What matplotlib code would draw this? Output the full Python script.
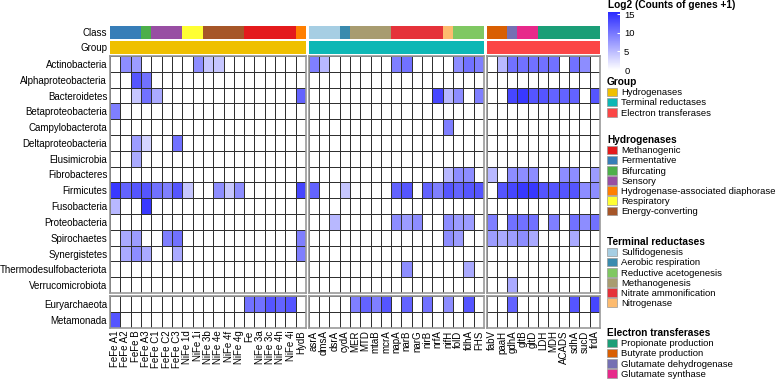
import numpy as np
import matplotlib
matplotlib.use("Agg")
import matplotlib.pyplot as plt
from matplotlib.colors import LinearSegmentedColormap, ListedColormap
from matplotlib.patches import Patch

plt.rcParams['font.family'] = ['Liberation Sans', 'DejaVu Sans']

# ---- data ----
phyla = ['Actinobacteria', 'Alphaproteobacteria', 'Bacteroidetes', 'Betaproteobacteria',
         'Campylobacterota', 'Deltaproteobacteria', 'Elusimicrobia', 'Fibrobacteres',
         'Firmicutes', 'Fusobacteria', 'Proteobacteria', 'Spirochaetes', 'Synergistetes',
         'Thermodesulfobacteriota', 'Verrucomicrobiota', 'Euryarchaeota', 'Metamonada']
n_bact = 15  # first 15 rows are bacteria, the rest in a second block

hyd_genes = ['FeFe A1', 'FeFe A2', 'FeFe B', 'FeFe A3', 'FeFe C1', 'FeFe C2', 'FeFe C3',
             'NiFe 1d', 'NiFe 1i', 'NiFe 3b', 'NiFe 4e', 'NiFe 4f', 'NiFe 4g', 'Fe',
             'NiFe 3a', 'NiFe 3c', 'NiFe 4h', 'NiFe 4i', 'HydB']
hyd_class = ['Fermentative'] * 3 + ['Bifurcating'] + ['Sensory'] * 3 + ['Respiratory'] * 2 + \
            ['Energy-converting'] * 4 + ['Methanogenic'] * 5 + ['Hydrogenase-associated diaphorase']
hyd_vals = [
    [0, 8, 7, 0, 0, 0, 0, 0, 8, 4, 4, 0, 0, 0, 0, 0, 0, 0, 0],
    [0, 0, 12, 10, 0, 0, 0, 0, 0, 0, 0, 0, 0, 0, 0, 0, 0, 0, 0],
    [0, 0, 4, 10, 6, 0, 0, 0, 0, 0, 0, 0, 0, 0, 0, 0, 0, 0, 11],
    [9, 0, 0, 0, 0, 0, 0, 0, 0, 0, 0, 0, 0, 0, 0, 0, 0, 0, 0],
    [0, 0, 0, 0, 0, 0, 0, 0, 0, 0, 0, 0, 0, 0, 0, 0, 0, 0, 0],
    [0, 0, 7, 3, 0, 0, 10, 0, 0, 0, 0, 0, 0, 0, 0, 0, 0, 0, 0],
    [0, 0, 6, 0, 0, 0, 0, 0, 0, 0, 0, 0, 0, 0, 0, 0, 0, 0, 0],
    [0, 0, 0, 0, 0, 0, 0, 0, 0, 0, 0, 0, 0, 0, 0, 0, 0, 0, 0],
    [14, 11, 12, 12, 10, 9, 12, 4, 0, 0, 8, 4, 8, 0, 0, 0, 0, 0, 13],
    [5, 0, 0, 14, 0, 0, 0, 0, 0, 0, 0, 0, 0, 0, 0, 0, 0, 0, 0],
    [0, 0, 0, 0, 0, 0, 0, 0, 0, 0, 0, 0, 0, 0, 0, 0, 0, 0, 0],
    [0, 6, 7, 0, 0, 9, 10, 0, 0, 0, 0, 0, 0, 0, 0, 0, 0, 0, 9],
    [0, 6, 8, 6, 0, 0, 6, 0, 0, 0, 0, 0, 0, 0, 0, 0, 0, 0, 9],
    [0, 0, 0, 0, 0, 0, 0, 0, 0, 0, 0, 0, 0, 0, 0, 0, 0, 0, 0],
    [0, 0, 0, 0, 0, 0, 0, 0, 0, 0, 0, 0, 0, 0, 0, 0, 0, 0, 0],
    [0, 0, 0, 0, 0, 0, 0, 0, 0, 0, 0, 0, 0, 10, 10, 12, 11, 12, 0],
    [12, 0, 0, 0, 0, 0, 0, 0, 0, 0, 0, 0, 0, 0, 0, 0, 0, 0, 0],
]

ter_genes = ['asrA', 'dmsA', 'dsrA', 'cydA', 'MER', 'MTD', 'mtaB', 'mcrA', 'napA', 'narB',
             'narG', 'nirB', 'nrfA', 'nifH', 'folD', 'fdhA', 'FHS']
ter_class = ['Sulfidogenesis'] * 3 + ['Aerobic respiration'] + ['Methanogenesis'] * 4 + \
            ['Nitrate ammonification'] * 5 + ['Nitrogenase'] + ['Reductive acetogenesis'] * 3
ter_vals = [
    [9, 5, 0, 0, 0, 0, 0, 0, 9, 10, 0, 0, 0, 0, 8, 10, 9],
    [0, 0, 0, 0, 0, 0, 0, 0, 0, 0, 0, 0, 0, 0, 0, 0, 0],
    [0, 0, 0, 0, 0, 0, 0, 0, 0, 0, 0, 0, 13, 5, 8, 0, 9],
    [0, 0, 0, 0, 0, 0, 0, 0, 0, 0, 0, 0, 0, 0, 0, 0, 0],
    [0, 0, 0, 0, 0, 0, 0, 0, 0, 0, 0, 0, 0, 9, 0, 0, 0],
    [0, 0, 0, 0, 0, 0, 0, 0, 0, 0, 0, 0, 0, 0, 0, 0, 0],
    [0, 0, 0, 0, 0, 0, 0, 0, 0, 0, 0, 0, 0, 0, 0, 0, 0],
    [0, 0, 0, 0, 0, 0, 0, 0, 0, 0, 0, 0, 0, 5, 8, 8, 0],
    [11, 0, 0, 4, 0, 0, 0, 0, 11, 12, 0, 11, 9, 12, 11, 12, 12],
    [0, 0, 0, 0, 0, 0, 0, 0, 0, 0, 0, 0, 0, 0, 0, 0, 0],
    [0, 0, 5, 0, 0, 0, 0, 0, 8, 7, 8, 0, 0, 8, 7, 7, 0],
    [0, 0, 0, 0, 0, 0, 0, 0, 0, 0, 0, 0, 0, 8, 7, 0, 0],
    [0, 0, 0, 0, 0, 0, 0, 0, 0, 0, 0, 0, 0, 0, 0, 0, 0],
    [0, 0, 0, 0, 0, 0, 0, 0, 0, 8, 0, 0, 0, 0, 0, 6, 0],
    [0, 0, 0, 0, 0, 0, 0, 0, 0, 0, 0, 0, 0, 0, 0, 0, 0],
    [0, 0, 0, 0, 9, 11, 9, 12, 0, 11, 0, 10, 0, 8, 0, 12, 0],
    [0, 0, 0, 0, 0, 0, 0, 0, 0, 0, 0, 0, 0, 0, 0, 0, 0],
]

ele_genes = ['fabV', 'paaH', 'gdhA', 'gltB', 'gltD', 'LDH', 'MDH', 'ACADS', 'sdhA', 'sucD', 'frdA']
ele_class = ['Butyrate production'] * 2 + ['Glutamate dehydrogenase'] + ['Glutamate synthase'] * 2 + \
            ['Propionate production'] * 6
ele_vals = [
    [0, 5, 10, 10, 10, 10, 10, 0, 10, 8, 0],
    [0, 0, 0, 0, 0, 0, 0, 0, 0, 0, 0],
    [0, 0, 13, 14, 12, 12, 11, 11, 11, 0, 12],
    [0, 0, 0, 0, 0, 0, 0, 0, 0, 0, 0],
    [0, 0, 0, 0, 0, 0, 0, 0, 0, 0, 0],
    [0, 0, 0, 0, 0, 0, 0, 0, 0, 0, 0],
    [0, 0, 0, 0, 0, 0, 0, 0, 0, 0, 0],
    [5, 0, 8, 8, 8, 0, 0, 8, 8, 0, 7],
    [0, 12, 13, 14, 14, 12, 12, 12, 12, 8, 8],
    [0, 0, 0, 0, 0, 0, 0, 0, 0, 0, 0],
    [9, 0, 10, 10, 10, 0, 9, 0, 10, 8, 10],
    [7, 6, 7, 8, 6, 0, 0, 0, 6, 0, 0],
    [0, 0, 0, 0, 0, 0, 0, 0, 0, 0, 0],
    [0, 0, 0, 0, 0, 0, 0, 0, 0, 0, 0],
    [0, 0, 6, 0, 0, 0, 0, 0, 0, 0, 0],
    [0, 0, 11, 0, 0, 0, 0, 0, 12, 0, 13],
    [0, 0, 0, 0, 0, 0, 0, 0, 0, 0, 0],
]

groups = ['Hydrogenases', 'Terminal reductases', 'Electron transferases']
group_colors = ['#EFC000', '#0DB7B5', '#FB4646']
hyd_classes = ['Methanogenic', 'Fermentative', 'Bifurcating', 'Sensory',
               'Hydrogenase-associated diaphorase', 'Respiratory', 'Energy-converting']
hyd_colors = ['#E41A1C', '#377EB8', '#4DAF4A', '#984EA3', '#FF7F00', '#FFFF33', '#A65628']
ter_classes = ['Sulfidogenesis', 'Aerobic respiration', 'Reductive acetogenesis',
               'Methanogenesis', 'Nitrate ammonification', 'Nitrogenase']
ter_colors = ['#A6CEE3', '#3A8BAE', '#7FC862', '#A89C70', '#E5323A', '#FDBB6F']
ele_classes = ['Propionate production', 'Butyrate production',
               'Glutamate dehydrogenase', 'Glutamate synthase']
ele_colors = ['#1B9E77', '#D95F02', '#7570B3', '#E7298A']

# ---- layout (pixels) ----
W, H = 778, 381
fig = plt.figure(figsize=(W / 100, H / 100), dpi=100)

def rect(x0, y0, x1, y1):
    return [x0 / W, 1 - y1 / H, (x1 - x0) / W, (y1 - y0) / H]

cw, rh = 10.32, 15.8
xstarts = [110, 308.6, 486.5]
row_blocks = [(56, 0, n_bact), (56 + n_bact * rh + 3, n_bact, len(phyla))]
cmap = LinearSegmentedColormap.from_list('wb', ['#FFFFFF', '#2A2AFF'])
fs = 7
lfs = 6.8

blocks = [(hyd_genes, hyd_class, hyd_classes, hyd_colors, hyd_vals),
          (ter_genes, ter_class, ter_classes, ter_colors, ter_vals),
          (ele_genes, ele_class, ele_classes, ele_colors, ele_vals)]

for b, (genes, cls, cls_names, cls_cols, vals) in enumerate(blocks):
    x0 = xstarts[b]
    x1 = x0 + len(genes) * cw
    vals = np.array(vals, dtype=float)

    # class annotation
    ax = fig.add_axes(rect(x0, 26, x1, 38.5))
    idx = np.array([[cls_names.index(c) for c in cls]])
    ax.pcolormesh(idx, cmap=ListedColormap(cls_cols), vmin=-0.5, vmax=len(cls_cols) - 0.5)
    ax.set_xticks([])
    ax.set_yticks([])
    for s in ax.spines.values():
        s.set_visible(False)
    if b == 0:
        ax.set_yticks([0.5])
        ax.set_yticklabels(['Class'], fontsize=fs)
        ax.tick_params(length=0, pad=2)

    # group annotation
    ax = fig.add_axes(rect(x0, 40.5, x1, 53.5))
    ax.pcolormesh(np.zeros((1, len(genes))), cmap=ListedColormap([group_colors[b]]), vmin=0, vmax=1)
    ax.set_xticks([])
    ax.set_yticks([])
    for s in ax.spines.values():
        s.set_visible(False)
    if b == 0:
        ax.set_yticks([0.5])
        ax.set_yticklabels(['Group'], fontsize=fs)
        ax.tick_params(length=0, pad=2)

    # heatmap blocks
    for r, (y0, i0, i1) in enumerate(row_blocks):
        y1 = y0 + (i1 - i0) * rh
        ax = fig.add_axes(rect(x0, y0, x1, y1))
        ax.pcolormesh(vals[i0:i1], cmap=cmap, vmin=0, vmax=15,
                      edgecolors='#303030', linewidth=0.7)
        ax.set_xlim(0, len(genes))
        ax.set_ylim(i1 - i0, 0)
        for s in ax.spines.values():
            s.set_color('#999999')
            s.set_linewidth(1.2)
        if b == 0:
            ax.set_yticks(np.arange(i1 - i0) + 0.5)
            ax.set_yticklabels(phyla[i0:i1], fontsize=fs)
        else:
            ax.set_yticks([])
        if r == 1:
            ax.set_xticks(np.arange(len(genes)) + 0.5)
            ax.set_xticklabels(genes, rotation=90, fontsize=fs)
        else:
            ax.set_xticks([])
        ax.tick_params(length=0, pad=2)

# ---- colour bar ----
cax = fig.add_axes(rect(608, 12, 620, 70))
sm = plt.cm.ScalarMappable(cmap=cmap, norm=plt.Normalize(0, 15.6))
cb = fig.colorbar(sm, cax=cax)
cb.set_ticks([0, 5, 10, 15])
cb.outline.set_visible(False)
cax.tick_params(direction='in', length=2, color='white', labelsize=lfs, pad=3)
fig.text(608 / W, 1 - 5.5 / H, 'Log2 (Counts of genes +1)', fontsize=7.3,
         fontweight='bold', va='center', ha='left')

# ---- legends ----
def add_legend(title, names, colors, top):
    handles = [Patch(facecolor=c, edgecolor='#999999', linewidth=0.5) for c in colors]
    leg = fig.legend(handles, names, title=title, loc='upper left',
                     bbox_to_anchor=(607 / W, 1 - top / H), frameon=False, fontsize=lfs,
                     title_fontproperties={'weight': 'bold', 'size': 7.3}, alignment='left',
                     handlelength=1.05, handleheight=1.05, handletextpad=0.45,
                     labelspacing=0.06, borderpad=0, borderaxespad=0)
    return leg

add_legend('Group', groups, group_colors, 77)
add_legend('Hydrogenases', hyd_classes, hyd_colors, 135)
add_legend('Terminal reductases', ter_classes, ter_colors, 237)
add_legend('Electron transferases', ele_classes, ele_colors, 328)

fig.savefig('out.png', dpi=100)
